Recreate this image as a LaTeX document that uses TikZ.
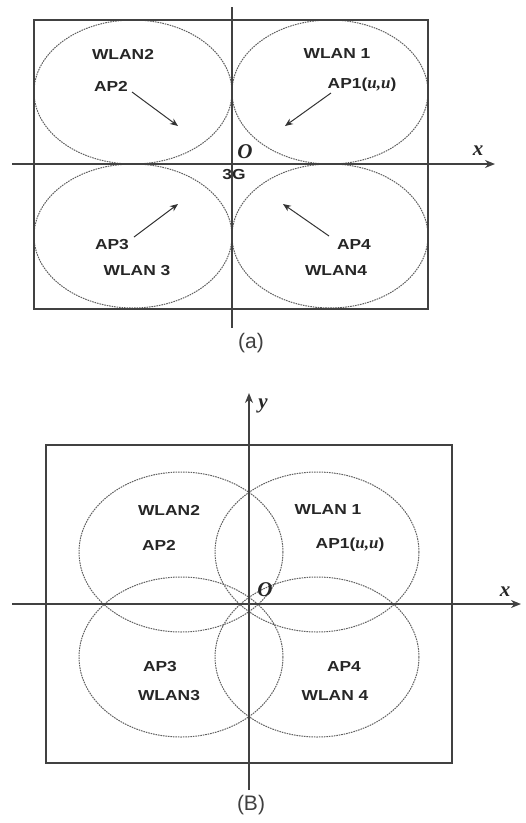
\documentclass[tikz,border=0pt]{standalone}
\usepackage{fontspec}
\usetikzlibrary{arrows.meta}
\newfontfamily\labfont[FakeStretch=1.2]{Liberation Sans}
\newfontfamily\capfont{Liberation Sans}
\newfontfamily\varfont{Liberation Serif}
\newcommand\uuf{\varfont\itshape\bfseries\fontsize{17}{18}\selectfont}
\definecolor{linegray}{RGB}{65,65,65}
\definecolor{dotgray}{RGB}{95,95,95}
\begin{document}
\begin{tikzpicture}[x=1pt,y=-1pt,
  lab/.style={font=\labfont\bfseries\fontsize{14.5}{15}\selectfont, text=black!85, inner sep=0pt},
  captext/.style={font=\capfont\fontsize{21}{22}\selectfont, text=black!75, inner sep=0pt},
  var/.style={font=\varfont\itshape\bfseries\fontsize{21}{22}\selectfont, text=black!85, inner sep=0pt},
  frame/.style={draw=linegray, line width=1.6pt},
  axis/.style={draw=linegray, line width=1.6pt},
  axarrow/.style={axis, -{Stealth[length=10pt,width=8pt]}},
  cell/.style={draw=dotgray, dash pattern=on 1.6pt off 0.9pt, line width=1pt},
  ptr/.style={draw=black!80, line width=1pt, -{Stealth[length=8pt,width=6.5pt]}}]
\useasboundingbox (0,0) rectangle (526,823);
% ---------- (a) ----------
\draw[cell] (133,92) ellipse [x radius=99, y radius=72];
\draw[cell] (330,92) ellipse [x radius=98, y radius=72];
\draw[cell] (133,236) ellipse [x radius=99, y radius=72];
\draw[cell] (330,236) ellipse [x radius=98, y radius=72];
\draw[frame] (34,20) rectangle (428,309);
\coordinate (aYtop) at (232,7);
\coordinate (aYbot) at (232,328);
\coordinate (aXl) at (12,164);
\coordinate (aXr) at (495,164);
\draw[axis] (aYtop) -- (aYbot);
\draw[axarrow] (aXl) -- (aXr);
\node[var] (aO) at (245,152) {O};
\node[var] (ax) at (478,151) {x};
\node[lab] (a3G) at (234,175) {3G};
\node[lab] (aW2) at (123,54) {WLAN2};
\node[lab] (aAP2) at (111,86) {AP2};
\node[lab] (aW1) at (337,54) {WLAN 1};
\node[lab] (aAP1) at (362,85) {AP1({\uuf u,u})};
\node[lab] (aAP3) at (112,245) {AP3};
\node[lab] (aW3) at (137,271) {WLAN 3};
\node[lab] (aAP4) at (354,245) {AP4};
\node[lab] (aW4) at (336,271) {WLAN4};
\coordinate (t2) at (178,126);
\coordinate (t1) at (285,126);
\coordinate (t3) at (178,204);
\coordinate (t4) at (283,204);
\coordinate (s2) at (132,92);
\coordinate (s1) at (331,93);
\coordinate (s3) at (134,237);
\coordinate (s4) at (329,236);
\draw[ptr] (s2) -- (t2);
\draw[ptr] (s1) -- (t1);
\draw[ptr] (s3) -- (t3);
\draw[ptr] (s4) -- (t4);
\node[captext] (capa) at (251,343) {(a)};
% ---------- (B) ----------
\draw[cell] (181,552) ellipse [x radius=102, y radius=80];
\draw[cell] (317,552) ellipse [x radius=102, y radius=80];
\draw[cell] (181,657) ellipse [x radius=102, y radius=80];
\draw[cell] (317,657) ellipse [x radius=102, y radius=80];
\draw[frame] (46,445) rectangle (452,763);
\coordinate (bYtop) at (249,393);
\coordinate (bYbot) at (249,790);
\coordinate (bXl) at (12,604);
\coordinate (bXr) at (521,604);
\draw[axarrow] (bYbot) -- (bYtop);
\draw[axarrow] (bXl) -- (bXr);
\node[var] (by) at (263,406) {y};
\node[var] (bx) at (505,592) {x};
\node[var] (bO) at (265,590) {O};
\node[lab] (bW2) at (169,510) {WLAN2};
\node[lab] (bAP2) at (159,545) {AP2};
\node[lab] (bW1) at (328,510) {WLAN 1};
\node[lab] (bAP1) at (350,545) {AP1({\uuf u,u})};
\node[lab] (bAP3) at (160,667) {AP3};
\node[lab] (bW3) at (169,696) {WLAN3};
\node[lab] (bAP4) at (344,667) {AP4};
\node[lab] (bW4) at (335,696) {WLAN 4};
\node[captext] (capb) at (251,805) {(B)};
\end{tikzpicture}
\end{document}
